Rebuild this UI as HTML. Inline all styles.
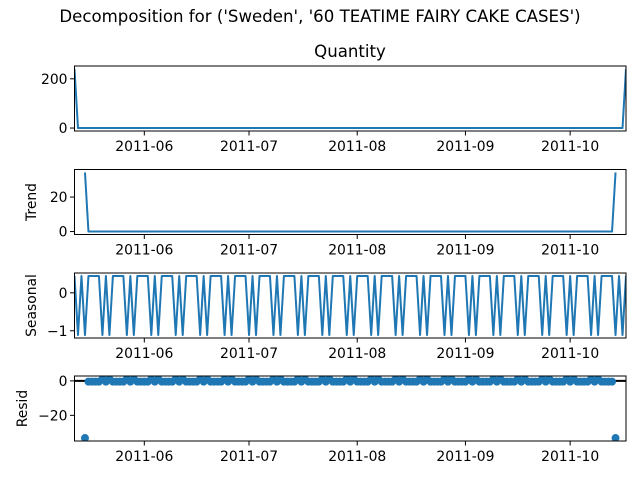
<!DOCTYPE html>
<html><head><meta charset="utf-8"><style>
html,body{margin:0;padding:0;background:#fff;}
svg text{font-family:"DejaVu Sans","Liberation Sans",sans-serif;fill:#000;}
</style></head><body>
<svg id="fig" width="640" height="480" viewBox="0 0 640 480" xmlns="http://www.w3.org/2000/svg">
<rect width="640" height="480" fill="#fff"/>
<text x="320" y="22" font-size="16.6" text-anchor="middle">Decomposition for ('Sweden', '60 TEATIME FAIRY CAKE CASES')</text>
<text x="350" y="57" font-size="16.6" text-anchor="middle">Quantity</text>
</svg>
<script>
// daily observations starting 2011-05-12
const startDate = [2011, 5, 12];
const quantity = [240,
0,0,0,0,0,0,0,0,0,0, 0,0,0,0,0,0,0,0,0,0, 0,0,0,0,0,0,0,0,0,0,
0,0,0,0,0,0,0,0,0,0, 0,0,0,0,0,0,0,0,0,0, 0,0,0,0,0,0,0,0,0,0,
0,0,0,0,0,0,0,0,0,0, 0,0,0,0,0,0,0,0,0,0, 0,0,0,0,0,0,0,0,0,0,
0,0,0,0,0,0,0,0,0,0, 0,0,0,0,0,0,0,0,0,0, 0,0,0,0,0,0,0,0,0,0,
0,0,0,0,0,0,0,0,0,0, 0,0,0,0,0,0,0,0,0,0, 0,0,0,0,0,0,0,0,0,0,
0,0,0,0,0,0,0,
240];
const xTickLabels = ["2011-06","2011-07","2011-08","2011-09","2011-10"];
const xTickDates = [[2011,6,1],[2011,7,1],[2011,8,1],[2011,9,1],[2011,10,1]];
const quantityTicks = [0,200];
const trendTicks = [0,20];
const seasonalTicks = [-1,0];
const residTicks = [-20,0];
const period = 7;

const svg = document.getElementById('fig');
const NS = 'http://www.w3.org/2000/svg';
function mk(tag, attrs, parent){const e=document.createElementNS(NS,tag);for(const k in attrs)e.setAttribute(k,attrs[k]);(parent||svg).appendChild(e);return e;}

const n = quantity.length;
const h = Math.floor(period/2);
const trend = quantity.map((v,i)=>{ if(i<h||i>=n-h) return null; let s=0; for(let j=i-h;j<=i+h;j++) s+=quantity[j]; return s/period;});
const det = quantity.map((v,i)=>trend[i]===null?null:v-trend[i]);
const phase = [];
for(let p=0;p<period;p++){let s=0,c=0;for(let i=p;i<n;i+=period){if(det[i]!==null){s+=det[i];c++;}}phase.push(c?s/c:0);}
const pm = phase.reduce((a,b)=>a+b,0)/period;
const seasonal = quantity.map((v,i)=>phase[i%period]-pm);
const resid = quantity.map((v,i)=>trend[i]===null?null:v-trend[i]-seasonal[i]);

const X0=74.5, X1=626;
const t0 = Date.UTC(startDate[0],startDate[1]-1,startDate[2]);
function dayIdx(d){return (Date.UTC(d[0],d[1]-1,d[2])-t0)/86400000;}
function xs(i){return X0+(X1-X0)*i/(n-1);}

const panels=[
 {name:'quantity',data:quantity,top:66,ticks:quantityTicks,label:null,type:'line'},
 {name:'trend',data:trend,top:169.5,ticks:trendTicks,label:'Trend',type:'line'},
 {name:'seasonal',data:seasonal,top:273,ticks:seasonalTicks,label:'Seasonal',type:'line'},
 {name:'resid',data:resid,top:376,ticks:residTicks,label:'Resid',type:'dots'}];
const H=65;
const FS=13.9;
panels.forEach(p=>{
  const vals=p.data.filter(v=>v!==null);
  let mn=Math.min(...vals), mx=Math.max(...vals);
  if(p.type==='dots'){mn=Math.min(mn,0);mx=Math.max(mx,0);}
  const m=(mx-mn)*0.05; const lo=mn-m, hi=mx+m;
  const ys=v=>p.top+H*(hi-v)/(hi-lo);
  const g=mk('g',{});
  
  
  const clipId='clip-'+p.name;
  const cp=mk('clipPath',{id:clipId},g); mk('rect',{x:X0,y:p.top,width:X1-X0,height:H},cp);
  if(p.type==='line'){
    let d='';let pen=false;
    p.data.forEach((v,i)=>{if(v===null){pen=false;return;}d+=(pen?'L':'M')+xs(i).toFixed(2)+' '+ys(v).toFixed(2);pen=true;});
    const pl=mk('path',{d:d,fill:'none',stroke:'#1f77b4','stroke-width':2,'stroke-linejoin':'round','clip-path':'url(#'+clipId+')'},g);
    
    
  } else {
    const zl=mk('line',{x1:X0,x2:X1,y1:ys(0),y2:ys(0),stroke:'#000','stroke-width':2},g);
    
    
    p.data.forEach((v,i)=>{if(v===null)return;
      const c=mk('circle',{cx:xs(i),cy:ys(v),r:4,fill:'#1f77b4','clip-path':'url(#'+clipId+')'},g);
      
      
    });
  }
  const fr=mk('rect',{x:X0,y:p.top,width:X1-X0,height:H,fill:'none',stroke:'#000','stroke-width':1},g);
  
  
  p.ticks.forEach(t=>{const y=ys(t);
    mk('line',{x1:X0-4.5,x2:X0,y1:y,y2:y,stroke:'#000','stroke-width':1},g);
    const tx=mk('text',{x:X0-7,y:y+5,'font-size':FS,'text-anchor':'end'},g);
    tx.textContent=(t<0?'\u2212'+Math.abs(t):String(t));
    
    
  });
  xTickDates.forEach((d,k)=>{const x=xs(dayIdx(d));
    mk('line',{x1:x,x2:x,y1:p.top+H,y2:p.top+H+4.5,stroke:'#000','stroke-width':1},g);
    const tx=mk('text',{x:x,y:p.top+H+20,'font-size':FS,'text-anchor':'middle'},g);
    tx.textContent=xTickLabels[k];
    
    
  });
  if(p.label){
    const lx = p.label==='Resid'?27:36;
    const yl=mk('text',{x:lx,y:p.top+H/2,'font-size':FS,'text-anchor':'middle',transform:'rotate(-90 '+lx+' '+(p.top+H/2)+')'},g);
    yl.textContent=p.label;
    
    
  }
});
</script>
</body></html>
